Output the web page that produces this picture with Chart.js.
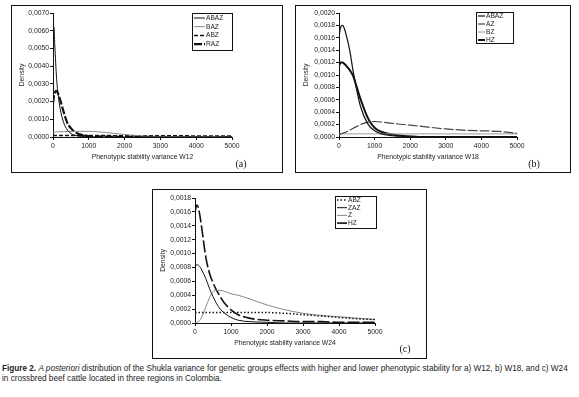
<!DOCTYPE html>
<html>
<head>
<meta charset="utf-8">
<script src="https://cdn.jsdelivr.net/npm/chart.js@4.4.1/dist/chart.umd.min.js"></script>
<style>
  body { margin: 0; background: #fff; width: 579px; height: 397px; position: relative; overflow: hidden; font-family: 'Liberation Sans', Arial, sans-serif; }
  canvas { position: absolute; }
  .box { position: absolute; border: 1px solid #111; box-sizing: border-box; pointer-events: none; }
  .tag { position: absolute; font-family: 'Liberation Serif', 'Times New Roman', serif; font-size: 10px; color: #111; transform: translate(-50%, -50%); }
  .caption { position: absolute; left: 2px; top: 364px; width: 577px; font-size: 8.2px; line-height: 9.5px; color: #222; white-space: nowrap; }
</style>
</head>
<body>
<canvas id="chartA" width="272" height="168" style="left:11px;top:5px"></canvas>
<canvas id="chartB" width="276" height="168" style="left:295px;top:5px"></canvas>
<canvas id="chartC" width="275" height="170" style="left:152px;top:189px"></canvas>
<div class="box" style="left:11px;top:5px;width:272px;height:168px"></div>
<div class="box" style="left:295px;top:5px;width:276px;height:168px"></div>
<div class="box" style="left:152px;top:189px;width:275px;height:170px"></div>
<span class="tag" style="left:241px;top:163px">(a)</span>
<span class="tag" style="left:534px;top:163px">(b)</span>
<span class="tag" style="left:405px;top:348px">(c)</span>
<div class="caption"><b>Figure 2.</b> <i>A posteriori</i> distribution of the Shukla variance for genetic groups effects with higher and lower phenotypic stability for a) W12, b) W18, and c) W24<br>in crossbred beef cattle located in three regions in Colombia.</div>
<script>
// x grid (phenotypic stability variance)
const varGrid = [0, 25, 50, 100, 150, 200, 300, 400, 500, 600, 800, 1000, 1500, 2000, 2500, 3000, 3500, 4000, 4500, 5000];
const varGridC = [0, 25, 50, 100, 150, 200, 300, 400, 500, 600, 700, 800, 1000, 1200, 1500, 2000, 2500, 3000, 3500, 4000, 4500, 5000];
const xTicks = [0, 1000, 2000, 3000, 4000, 5000];

// (a) W12
const abazW12 = [0.0050, 0.0062, 0.0052, 0.0033, 0.0023, 0.0016, 0.0008, 0.0004, 0.0002, 0.0001, 0.00003, 0.00001, 0, 0, 0, 0, 0, 0, 0, 0];
const bazW12 = [0.00028, 0.00028, 0.00028, 0.00029, 0.00029, 0.0003, 0.0003, 0.00031, 0.00031, 0.00032, 0.00032, 0.00032, 0.00025, 0.00014, 0.00006, 0.00003, 0.00002, 0.00001, 0.00001, 0];
const abzW12 = [0.00008, 0.00008, 0.00008, 0.00008, 0.00008, 0.00008, 0.00008, 0.00008, 0.00008, 0.00008, 0.00008, 0.00008, 0.00008, 0.00007, 0.00007, 0.00007, 0.00007, 0.00006, 0.00006, 0.00006];
const razW12 = [0.0019, 0.0023, 0.0025, 0.0026, 0.0024, 0.0021, 0.0014, 0.0008, 0.0005, 0.0003, 0.00012, 0.00005, 0.00002, 0.00001, 0, 0, 0, 0, 0, 0];

// (b) W18
const abazW18 = [0.0016, 0.00172, 0.00178, 0.0018, 0.00175, 0.00165, 0.0014, 0.00105, 0.00075, 0.0005, 0.00022, 0.0001, 0.00002, 0.00001, 0, 0, 0, 0, 0, 0];
const azW18 = [0.00003, 0.00004, 0.00005, 0.00006, 0.00007, 0.00008, 0.00011, 0.00014, 0.00017, 0.0002, 0.00024, 0.00025, 0.00022, 0.00019, 0.00016, 0.00013, 0.00011, 0.0001, 0.00009, 0.00006];
const bzW18 = [0.00005, 0.00005, 0.00005, 0.00005, 0.00005, 0.00005, 0.00005, 0.00005, 0.00005, 0.00005, 0.00005, 0.00005, 0.00005, 0.00005, 0.00005, 0.00005, 0.00005, 0.00005, 0.00005, 0.00005];
const hzW18 = [0.00115, 0.00118, 0.0012, 0.0012, 0.00118, 0.00115, 0.00108, 0.00098, 0.0008, 0.00062, 0.00032, 0.00015, 0.00004, 0.00001, 0, 0, 0, 0, 0, 0];

// (c) W24
const abzW24 = [0.00015, 0.00015, 0.00015, 0.00015, 0.00015, 0.00015, 0.00015, 0.00015, 0.00015, 0.00015, 0.00015, 0.00015, 0.00015, 0.00015, 0.00015, 0.00015, 0.00014, 0.00012, 0.0001, 0.00008, 0.00006, 0.00005];
const zazW24 = [0.0008, 0.00083, 0.00084, 0.00083, 0.0008, 0.00075, 0.00064, 0.0005, 0.00038, 0.00028, 0.0002, 0.00015, 0.00008, 0.00004, 0.00002, 0.00001, 0, 0, 0, 0, 0, 0];
const zW24 = [0, 0, 0.00001, 0.00002, 0.00005, 0.0001, 0.00023, 0.00036, 0.00045, 0.00047, 0.00047, 0.00046, 0.00042, 0.0004, 0.00035, 0.00026, 0.00019, 0.00014, 0.00011, 0.00009, 0.00007, 0.00005];
const hzW24 = [0.00158, 0.00166, 0.0017, 0.00165, 0.0015, 0.00132, 0.00095, 0.00072, 0.00058, 0.00047, 0.00038, 0.0003, 0.00019, 0.00012, 0.00007, 0.00004, 0.00003, 0.00002, 0.00002, 0.00001, 0.00001, 0.00001];

const FONT = 'Liberation Sans';

function pts(xs, ys) {
    return xs.map((x, i) => ({ x: x, y: ys[i] }));
}

// legend drawn as a boxed key inside the plot, like the original figure
const boxLegend = {
    id: 'boxLegend',
    afterDraw(chart, args, opts) {
        const ctx = chart.ctx;
        const [bx, by, bw, bh] = opts.box;
        ctx.save();
        ctx.fillStyle = '#fff';
        ctx.fillRect(bx, by, bw, bh);
        ctx.strokeStyle = '#111';
        ctx.lineWidth = 1;
        ctx.strokeRect(bx + 0.5, by + 0.5, bw, bh);
        chart.data.datasets.forEach((ds, i) => {
            const y = by + opts.top + i * opts.step;
            ctx.beginPath();
            ctx.setLineDash(ds.borderDash || []);
            ctx.strokeStyle = ds.borderColor;
            ctx.lineWidth = ds.borderWidth;
            ctx.moveTo(bx + 2, y);
            ctx.lineTo(bx + 2 + opts.len, y);
            ctx.stroke();
            ctx.setLineDash([]);
            ctx.fillStyle = '#222';
            ctx.font = '6.6px ' + FONT;
            ctx.textBaseline = 'middle';
            ctx.fillText(ds.label, bx + 3 + opts.len, y);
        });
        ctx.restore();
    }
};

function makeChart(id, datasets, yMax, yStep, xTitle, pad, legendOpts) {
    return new Chart(document.getElementById(id), {
        type: 'line',
        data: { datasets: datasets },
        plugins: [boxLegend],
        options: {
            responsive: false,
            animation: false,
            layout: { padding: pad },
            elements: { point: { radius: 0 }, line: { tension: 0.4, cubicInterpolationMode: 'monotone' } },
            scales: {
                x: {
                    type: 'linear', min: 0, max: 5000,
                    afterFit: (s) => { s.height = 24; },
                    afterBuildTicks: (s) => { s.ticks = xTicks.map(v => ({ value: v })); },
                    grid: { drawOnChartArea: false, drawTicks: true, tickLength: 3, color: '#111' },
                    border: { color: '#111', width: 1 },
                    ticks: { color: '#222', font: { family: FONT, size: 6.8 }, padding: 2, maxRotation: 0, callback: v => String(v) },
                    title: { display: true, text: xTitle, color: '#222', font: { family: FONT, size: 6.8 }, padding: 0 }
                },
                y: {
                    min: 0, max: yMax,
                    afterFit: (s) => { s.width = pad.yw; },
                    ticks: { stepSize: yStep, color: '#222', font: { family: FONT, size: 6.8 }, padding: 1, callback: v => v.toFixed(4).replace('.', ',') },
                    grid: { drawOnChartArea: false, drawTicks: true, tickLength: 3, color: '#111' },
                    border: { color: '#111', width: 1 },
                    title: { display: true, text: 'Density', color: '#222', font: { family: FONT, size: 6.8 }, padding: 7 }
                }
            },
            plugins: {
                legend: { display: false },
                tooltip: { enabled: false },
                boxLegend: legendOpts
            }
        }
    });
}

makeChart('chartA', [
    { label: 'ABAZ', data: pts(varGrid, abazW12), borderColor: '#111', borderWidth: 1 },
    { label: 'BAZ', data: pts(varGrid, bazW12), borderColor: '#888', borderWidth: 1 },
    { label: 'ABZ', data: pts(varGrid, abzW12), borderColor: '#111', borderWidth: 1.5, borderDash: [4, 2] },
    { label: 'RAZ', data: pts(varGrid, razW12), borderColor: '#111', borderWidth: 2.2, borderDash: [8, 2] }
], 0.007, 0.001, 'Phenotypic stability variance W12',
   { left: 0, right: 51, top: 8, bottom: 12, yw: 42 },
   { box: [181, 8, 40, 37], top: 5, step: 8.7, len: 11 });

makeChart('chartB', [
    { label: 'ABAZ', data: pts(varGrid, abazW18), borderColor: '#111', borderWidth: 1.2 },
    { label: 'AZ', data: pts(varGrid, azW18), borderColor: '#444', borderWidth: 1.2, borderDash: [10, 2] },
    { label: 'BZ', data: pts(varGrid, bzW18), borderColor: '#999', borderWidth: 1 },
    { label: 'HZ', data: pts(varGrid, hzW18), borderColor: '#111', borderWidth: 2 }
], 0.002, 0.0002, 'Phenotypic stability variance W18',
   { left: 0, right: 54, top: 8, bottom: 12, yw: 44 },
   { box: [181, 7, 37, 31], top: 4, step: 8, len: 7 });

makeChart('chartC', [
    { label: 'ABZ', data: pts(varGridC, abzW24), borderColor: '#111', borderWidth: 1.5, borderDash: [1.5, 2] },
    { label: 'ZAZ', data: pts(varGridC, zazW24), borderColor: '#111', borderWidth: 1 },
    { label: 'Z', data: pts(varGridC, zW24), borderColor: '#888', borderWidth: 1 },
    { label: 'HZ', data: pts(varGridC, hzW24), borderColor: '#111', borderWidth: 1.6, borderDash: [12, 3] }
], 0.0018, 0.0002, 'Phenotypic stability variance W24',
   { left: 0, right: 52, top: 9, bottom: 12, yw: 43 },
   { box: [183, 7, 41, 32], top: 4, step: 7.7, len: 10 });
</script>
</body>
</html>
